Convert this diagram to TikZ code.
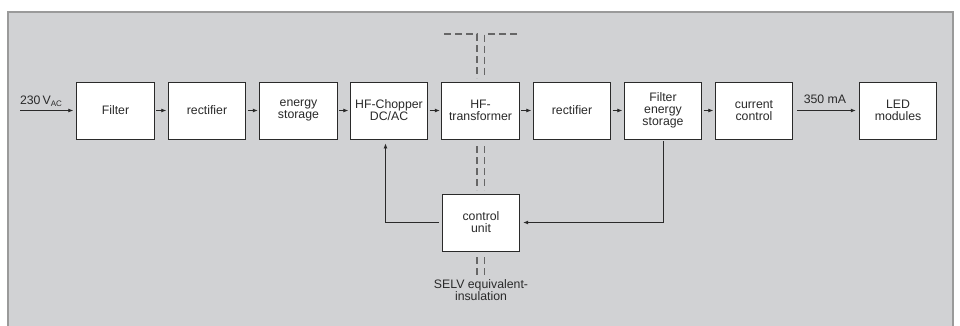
\documentclass[tikz,border=0pt]{standalone}
\usepackage{fontspec}
\setmainfont{Liberation Sans}
\usetikzlibrary{arrows.meta}
\definecolor{bgfill}{HTML}{D1D2D4}
\definecolor{bgline}{HTML}{9A9A9A}
\definecolor{ink}{HTML}{2A2A2A}
\definecolor{dashc}{HTML}{666666}
\begin{document}
\begin{tikzpicture}[x=1pt,y=-1pt,
  blk/.style={draw=ink,line width=0.9pt,fill=white,minimum width=77.5pt,minimum height=57pt,inner sep=0pt,align=center,text=ink,font=\fontsize{12.3}{12}\selectfont},
  conn/.style={draw=ink,line width=0.8pt,-{Latex[length=5pt,width=4pt]}},
  plain/.style={draw=ink,line width=0.8pt},
  iso/.style={draw=dashc,line width=1.3pt,dash pattern=on 7pt off 4pt},
  lbl/.style={text=ink,font=\fontsize{12.3}{12}\selectfont,inner sep=0pt,align=center}]
\useasboundingbox (0,0) rectangle (960,325);
\fill[white] (0,0) rectangle (960,325);
\fill[bgfill] (8,12) rectangle (953,326);
\draw[bgline,line width=1.2pt] (8,326) -- (8,12) -- (953,12) -- (953,326);

\node[blk] (filt) at (115.5,110.5) {Filter};
\node[blk] (rect1) at (207,110.5) {rectifier};
\node[blk] (stor) at (298.5,110.5) {energy\\storage};
\node[blk] (chop) at (389,110.5) {HF-Chopper\\DC/AC};
\node[blk] (trans) at (480.5,110.5) {HF-\\transformer};
\node[blk] (rect2) at (572,110.5) {rectifier};
\node[blk] (fes) at (663,110.5) {Filter\\energy\\storage};
\node[blk] (curr) at (754,110.5) {current\\control};
\node[blk] (led) at (898,110.5) {LED\\modules};
\node[blk] (cu) at (481,222.5) {control\\unit};

\coordinate (in) at (20,110.5);
\draw[conn,shorten >=3pt] (in) -- (filt.west);
\node[lbl,anchor=base] (vin) at (41,104) {230\,V\raisebox{-0.35ex}{\fontsize{8}{8}\selectfont AC}};

\foreach \a/\b in {filt/rect1,rect1/stor,stor/chop,chop/trans,trans/rect2,rect2/fes,fes/curr}
  \draw[conn,shorten <=1.5pt,shorten >=1.5pt] (\a.east) -- (\b.west);

\draw[conn,shorten <=4pt,shorten >=3pt] (curr.east) -- (led.west);
\node[lbl,anchor=base] (ma) at (825,103) {350 mA};

\draw[conn,shorten <=3pt,shorten >=4pt] (cu.west) -| ([xshift=-3.5pt]chop.south);
\draw[conn,shorten <=2pt,shorten >=3pt] (fes.south) |- (cu.east);

% insulation barrier
\coordinate (d1) at (477,34);
\coordinate (d2) at (484.7,34);
\draw[iso] (444,34) -- (d1) -- (477,78);
\draw[iso] (517,34) -- (d2) -- (484.7,78);
\draw[iso] (477,146) -- (477,190);
\draw[iso] (484.7,146) -- (484.7,190);
\draw[iso] (477,257) -- (477,275);
\draw[iso] (484.7,257) -- (484.7,275);
\node[lbl,anchor=north] (selv) at (481,279) {SELV equivalent-\\insulation};
\end{tikzpicture}
\end{document}
